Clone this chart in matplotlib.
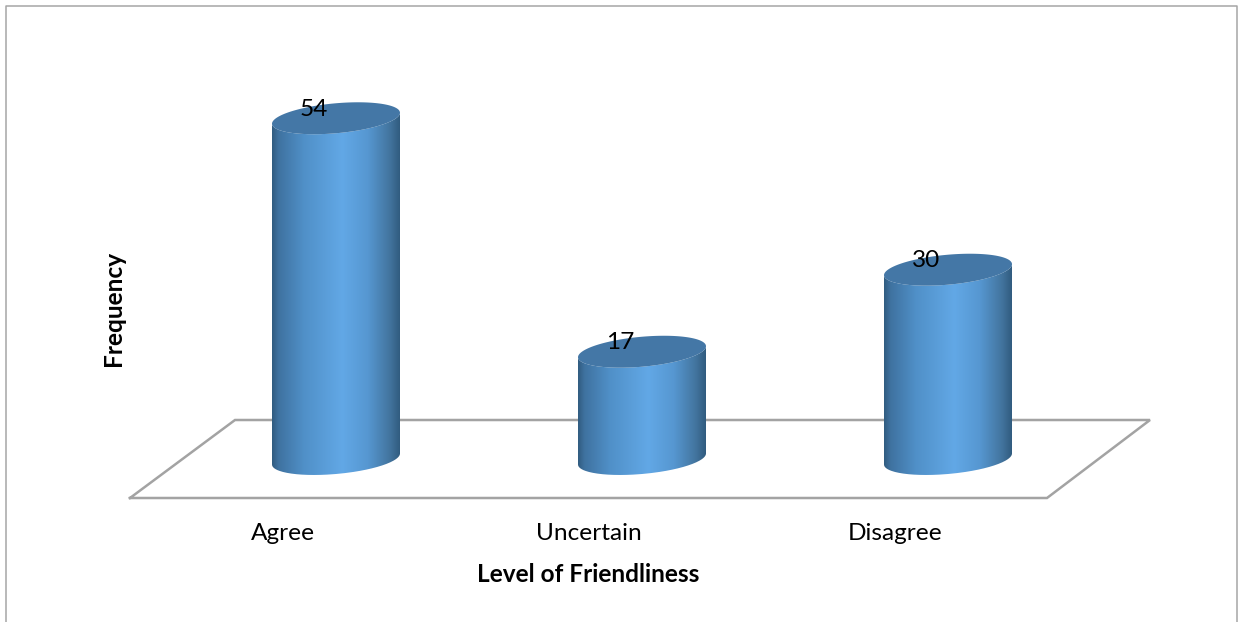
import numpy as np
import matplotlib
matplotlib.use('Agg')
import matplotlib.pyplot as plt
from matplotlib.colors import LinearSegmentedColormap
from matplotlib.path import Path
from matplotlib.patches import PathPatch

categories = ['Agree', 'Uncertain', 'Disagree']
frequency = [54, 17, 30]

plt.rcParams['font.family'] = ['Lato', 'DejaVu Sans']

W, H = 1240, 622
x0, dx = 336, 306      # pixel of first category, pixels per category
y0, dy = 459, 6.31     # pixel of value 0, pixels per unit
fs = 17.6


def px(x, y):
    # pixel position in the picture -> data position
    return (x - x0) / dx, (y0 - y) / dy


fig = plt.figure(figsize=(W / 100, H / 100), dpi=100)
ax = fig.add_axes([0, 0, 1, 1])
ax.axis('off')

# chart border (bottom edge is cut off)
bx, by = px(np.array([5.5, 5.5, 1237, 1237]), np.array([H, 5.5, 5.5, H]))
ax.plot(bx, by, color='#a6a6a6', lw=1.1, zorder=1)

# floor of the 3d chart
fx, fy = px(np.array([130, 1047, 1150, 235, 130]), np.array([498, 498, 420, 420, 498]))
ax.plot(fx, fy, color='#a3a3a3', lw=1.8, zorder=1, solid_joinstyle='miter')

cmap = LinearSegmentedColormap.from_list('cyl', [
    (0.0, '#315c80'), (0.05, '#3f72a0'), (0.25, '#5090c8'), (0.55, '#62a8e6'),
    (0.75, '#5697d1'), (0.92, '#43759f'), (1.0, '#315c80')])
grad = np.linspace(0, 1, 256).reshape(1, -1)

t = np.linspace(0, 2 * np.pi, 181)
ex = 64 / dx * np.cos(t)
ey = (5.5 * np.cos(t) + 15 * np.sin(t)) / dy

for i, v in enumerate(frequency):
    # side of the cylinder: top ring down to lower half of the base
    lower = (t >= np.pi) & (t <= 2 * np.pi)
    side_x = np.r_[i + ex[lower], (i + ex[lower])[::-1]]
    side_y = np.r_[ey[lower], (v + ey[lower])[::-1]]
    side = PathPatch(Path(np.c_[side_x, side_y]), fc='none', ec='none', zorder=3)
    ax.add_patch(side)
    im = ax.imshow(grad, cmap=cmap, extent=(i + ex.min(), i + ex.max(), 0 + ey.min(), v + ey.max()),
                   aspect='auto', zorder=3, interpolation='bilinear')
    im.set_clip_path(side)
    ax.fill(i + ex, v + ey, color='#4477a6', zorder=4, lw=0)
    ax.annotate(str(v), (i, v), xytext=(-22 * 0.72, 9 * 0.72), textcoords='offset points',
                ha='center', va='center', fontsize=fs, color='black', zorder=5)

# imshow changes the limits, so set them last
ax.set_xlim(px(0, 0)[0], px(W, 0)[0])
ax.set_ylim(px(0, H)[1], px(0, 0)[1])

for i, name in enumerate(categories):
    lx, ly = px(x0 + i * dx - 53, 534)
    ax.text(lx, ly, name, ha='center', va='center', fontsize=fs, color='black')

lx, ly = px(588, 574)
ax.text(lx, ly, 'Level of Friendliness', ha='center', va='center', fontsize=fs, fontweight='bold')
lx, ly = px(113, 308)
ax.text(lx, ly, 'Frequency', ha='center', va='center', rotation=90, fontsize=fs, fontweight='bold')

fig.savefig('out.png', dpi=100)
